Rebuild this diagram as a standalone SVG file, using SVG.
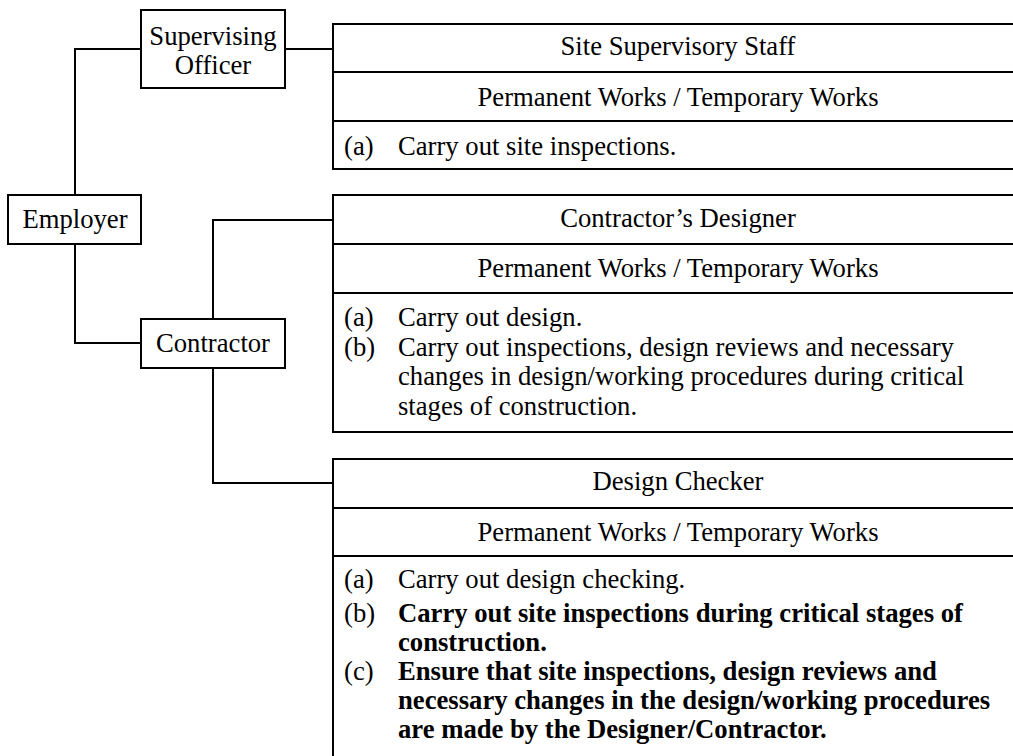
<svg xmlns="http://www.w3.org/2000/svg" width="1013" height="756" viewBox="0 0 1013 756">
<style>
  .box { fill: #fff; stroke: #000; stroke-width: 2; }
  .sep { stroke: #000; stroke-width: 2; fill: none; }
  .conn { stroke: #000; stroke-width: 2; fill: none; }
  text { font-family: "Liberation Serif", "Times New Roman", serif; font-size: 26.67px; fill: #000; }
  .c { text-anchor: middle; }
  .b { font-weight: bold; }
</style>
<rect width="1013" height="756" fill="#fff"/>
<g id="connectors">
  <path class="conn" d="M75,195 V49 H141"/>
  <path class="conn" d="M285,49 H333"/>
  <path class="conn" d="M75,244 V343 H141"/>
  <path class="conn" d="M213,319 V220 H333"/>
  <path class="conn" d="M213,368 V483 H333"/>
</g>
<g id="employer">
  <rect class="box" x="8" y="195" width="133" height="49"/>
  <text class="c" x="75" y="228">Employer</text>
</g>
<g id="supervising-officer">
  <rect class="box" x="141" y="10" width="144" height="78"/>
  <text class="c" x="213" y="45">Supervising</text>
  <text class="c" x="213" y="74">Officer</text>
</g>
<g id="contractor">
  <rect class="box" x="141" y="319" width="144" height="49"/>
  <text class="c" x="213" y="352">Contractor</text>
</g>
<g id="site-supervisory-staff">
  <rect class="box" x="333" y="24" width="700" height="145"/>
  <path class="sep" d="M333,72 H1013 M333,121 H1013"/>
  <text class="c" x="678" y="55">Site Supervisory Staff</text>
  <text class="c" x="678" y="106">Permanent Works / Temporary Works</text>
  <text x="344" y="155">(a)</text>
  <text x="398" y="155">Carry out site inspections.</text>
</g>
<g id="contractors-designer">
  <rect class="box" x="333" y="195" width="700" height="237"/>
  <path class="sep" d="M333,244 H1013 M333,293 H1013"/>
  <text class="c" x="678" y="227">Contractor’s Designer</text>
  <text class="c" x="678" y="277">Permanent Works / Temporary Works</text>
  <text x="344" y="326">(a)</text>
  <text x="398" y="326">Carry out design.</text>
  <text x="344" y="355.5">(b)</text>
  <text x="398" y="355.5">Carry out inspections, design reviews and necessary</text>
  <text x="398" y="385">changes in design/working procedures during critical</text>
  <text x="398" y="414.5">stages of construction.</text>
</g>
<g id="design-checker">
  <rect class="box" x="333" y="459" width="700" height="350"/>
  <path class="sep" d="M333,508 H1013 M333,556 H1013"/>
  <text class="c" x="678" y="490">Design Checker</text>
  <text class="c" x="678" y="541">Permanent Works / Temporary Works</text>
  <text x="344" y="588">(a)</text>
  <text x="398" y="588">Carry out design checking.</text>
  <text x="344" y="622">(b)</text>
  <text class="b" x="398" y="622">Carry out site inspections during critical stages of</text>
  <text class="b" x="398" y="651">construction.</text>
  <text x="344" y="680">(c)</text>
  <text class="b" x="398" y="680">Ensure that site inspections, design reviews and</text>
  <text class="b" x="398" y="709">necessary changes in the design/working procedures</text>
  <text class="b" x="398" y="738">are made by the Designer/Contractor.</text>
</g>
</svg>
